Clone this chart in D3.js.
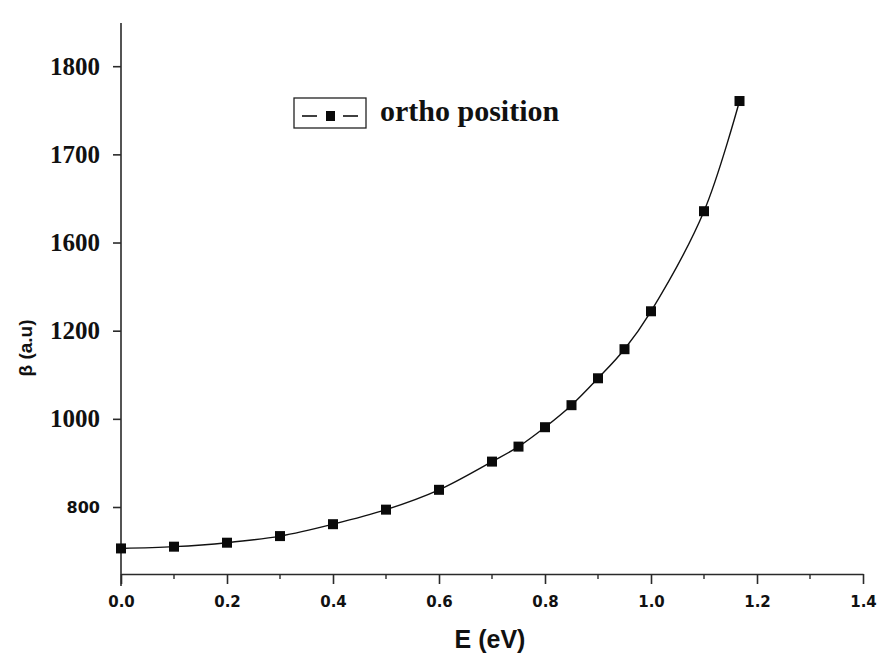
<!DOCTYPE html>
<html>
<head>
<meta charset="utf-8">
<script src="https://cdn.jsdelivr.net/npm/d3@7"></script>
<style>
  html, body { margin: 0; padding: 0; background: #fff; }
  svg { display: block; }
</style>
</head>
<body>
<svg id="chart" width="877" height="653"></svg>
<script>
// Photon energy (eV) and first hyperpolarizability β (a.u) for the ortho position
const energy = [0.0, 0.1, 0.2, 0.3, 0.4, 0.5, 0.6, 0.7, 0.75, 0.8, 0.85, 0.9, 0.95, 1.0, 1.1, 1.167];
const beta   = [706, 710, 719, 734, 761, 794, 839, 903, 937, 981, 1031, 1092, 1158, 1244, 1471, 1721];

const xTickValues = [0.0, 0.2, 0.4, 0.6, 0.8, 1.0, 1.2, 1.4];
const xMinorTicks = [0.1, 0.3, 0.5, 0.7, 0.9, 1.1, 1.3];
const yTickValues = [800, 1000, 1200, 1400, 1600, 1800];
const yTickLabels = ["800", "1000", "1200", "1600", "1700", "1800"];

const seriesName = "ortho position";

const svg = d3.select("#chart");

const x = d3.scaleLinear().domain([0, 1.4]).range([121, 863]);
const y = d3.scaleLinear().domain([648, 1898]).range([574, 23]);

const axisColor = "#2a2a2a";

// bottom axis
const xAxis = svg.append("g")
  .attr("transform", `translate(0,${y.range()[0]})`)
  .call(d3.axisBottom(x).tickValues(xTickValues).tickSize(10).tickSizeOuter(0).tickPadding(12)
        .tickFormat(d3.format(".1f")));
xAxis.select(".domain").attr("stroke", axisColor).attr("stroke-width", 1.6);
xAxis.selectAll(".tick line").attr("stroke", axisColor).attr("stroke-width", 1.6);
xAxis.selectAll(".tick text")
  .attr("fill", "#111")
  .style("font-family", "'DejaVu Sans', sans-serif")
  .style("font-weight", "bold")
  .style("font-size", "15px");

// minor ticks on the bottom axis
svg.append("g").selectAll("line").data(xMinorTicks).join("line")
  .attr("x1", d => x(d)).attr("x2", d => x(d))
  .attr("y1", y.range()[0]).attr("y2", y.range()[0] + 5)
  .attr("stroke", axisColor).attr("stroke-width", 1.4);

// left axis
const yAxis = svg.append("g")
  .attr("transform", `translate(${x.range()[0]},0)`)
  .call(d3.axisLeft(y).tickValues(yTickValues).tickSize(8).tickSizeOuter(0).tickPadding(13)
        .tickFormat((d, i) => yTickLabels[i]));
yAxis.select(".domain").remove();
yAxis.selectAll(".tick line").attr("stroke", axisColor).attr("stroke-width", 1.6);
yAxis.selectAll(".tick text")
  .attr("fill", "#111")
  .style("font-weight", "bold")
  .style("font-family", (d, i) => i === 0 ? "'DejaVu Sans', sans-serif" : "'Liberation Serif', 'Times New Roman', serif")
  .style("font-size", (d, i) => i === 0 ? "16px" : "25px");

svg.append("line")
  .attr("x1", x.range()[0]).attr("x2", x.range()[0])
  .attr("y1", y.range()[1]).attr("y2", y.range()[0] + 12)
  .attr("stroke", axisColor).attr("stroke-width", 1.6);

// axis titles
svg.append("text")
  .attr("x", 490).attr("y", 648)
  .attr("text-anchor", "middle")
  .attr("fill", "#111")
  .style("font-family", "'Liberation Sans', Arial, sans-serif")
  .style("font-weight", "bold")
  .style("font-size", "25px")
  .text("E (eV)");

svg.append("text")
  .attr("transform", "translate(32,348) rotate(-90)")
  .attr("text-anchor", "middle")
  .attr("fill", "#111")
  .style("font-family", "'Liberation Sans', Arial, sans-serif")
  .style("font-weight", "bold")
  .style("font-size", "19px")
  .text("β (a.u)");

// data curve and markers
const pts = energy.map((e, i) => [e, beta[i]]);
const line = d3.line()
  .x(d => x(d[0])).y(d => y(d[1]))
  .curve(d3.curveCatmullRom.alpha(0.5));

svg.append("path")
  .datum(pts)
  .attr("d", line)
  .attr("fill", "none")
  .attr("stroke", "#111")
  .attr("stroke-width", 1.4);

const ms = 10;
svg.append("g").selectAll("rect").data(pts).join("rect")
  .attr("x", d => x(d[0]) - ms / 2)
  .attr("y", d => y(d[1]) - ms / 2)
  .attr("width", ms).attr("height", ms)
  .attr("fill", "#0a0a0a");

// legend
const lg = svg.append("g");
lg.append("rect")
  .attr("x", 294).attr("y", 98).attr("width", 72).attr("height", 30)
  .attr("fill", "none").attr("stroke", "#222").attr("stroke-width", 1.3);
lg.append("line").attr("x1", 302).attr("x2", 317).attr("y1", 116).attr("y2", 116)
  .attr("stroke", "#111").attr("stroke-width", 1.6);
lg.append("line").attr("x1", 343).attr("x2", 358).attr("y1", 116).attr("y2", 116)
  .attr("stroke", "#111").attr("stroke-width", 1.6);
lg.append("rect").attr("x", 326).attr("y", 111).attr("width", 9).attr("height", 10)
  .attr("fill", "#0a0a0a");
lg.append("text")
  .attr("x", 380).attr("y", 121)
  .attr("fill", "#111")
  .style("font-family", "'Liberation Serif', 'Times New Roman', serif")
  .style("font-weight", "bold")
  .style("font-size", "30px")
  .text(seriesName);
</script>
</body>
</html>
